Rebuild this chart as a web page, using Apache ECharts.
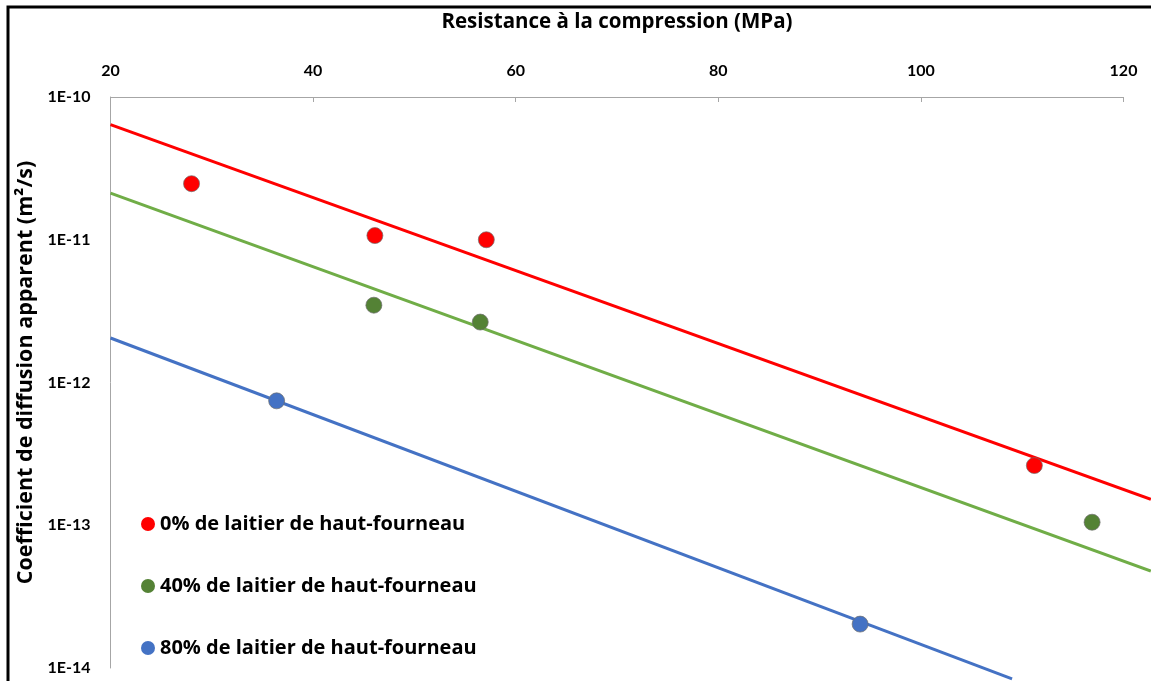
<!DOCTYPE html>
<html>
<head>
<meta charset="utf-8">
<script src="https://cdn.jsdelivr.net/npm/echarts@6/dist/echarts.min.js"></script>
<style>
  html, body { margin: 0; padding: 0; background: #fff; }
  #chart { width: 1151px; height: 681px; }
</style>
</head>
<body>
<div id="chart"></div>
<script>
// measured points (resistance MPa, diffusion coefficient m2/s)
var names = ['0% de laitier de haut-fourneau', '40% de laitier de haut-fourneau', '80% de laitier de haut-fourneau'];
var x0 = [28.0, 46.1, 57.1, 111.2];
var y0 = [2.47e-11, 1.07e-11, 1.0e-11, 2.62e-13];
var x40 = [46.0, 56.5, 116.9];
var y40 = [3.48e-12, 2.65e-12, 1.05e-13];
var x80 = [36.4, 94.0];
var y80 = [7.44e-13, 2.03e-14];

// trend lines, ends (they run past the axes, like in excel)
var trendX0 = [20, 122.7];
var trendY0 = [6.41e-11, 1.52e-13];
var trendX40 = [20, 122.7];
var trendY40 = [2.12e-11, 4.77e-14];
var trendX80 = [20, 109.0];
var trendY80 = [2.05e-12, 8.4e-15];

var xTicks = [20, 40, 60, 80, 100, 120];

var pointColors = ['#ff0000', '#548235', '#4472c4'];
var lineColors = ['#ff0000', '#70ad47', '#4472c4'];

var font = '"Open Sans", Lato, sans-serif';
var tickFont = 'Lato, "Open Sans", sans-serif';

function pairs(xs, ys) {
  return xs.map(function(x, i) { return [x, ys[i]]; });
}

var chart = echarts.init(document.getElementById('chart'));

var pts = [pairs(x0, y0), pairs(x40, y40), pairs(x80, y80)];
var trends = [pairs(trendX0, trendY0), pairs(trendX40, trendY40), pairs(trendX80, trendY80)];

// second (hidden) grid is wider so the trend lines can run on past the x axis end
var plotLeft = 110.5, plotTop = 97;
var plotW = 1013;
var plotH = 571;
var pxPerUnit = plotW / 100;
var wideW = 1151 - plotLeft;
var wideMax = 20 + wideW / pxPerUnit;

var series = [];
trends.forEach(function(d, i) {
  series.push({
    name: 'trend' + i,
    type: 'line',
    xAxisIndex: 1,
    yAxisIndex: 1,
    data: d,
    symbol: 'none',
    clip: false,
    silent: true,
    z: 2,
    lineStyle: { color: lineColors[i], width: 3 }
  });
});
pts.forEach(function(d, i) {
  series.push({
    name: names[i],
    type: 'scatter',
    data: d,
    symbol: 'circle',
    symbolSize: 16,
    z: 5,
    itemStyle: { color: pointColors[i], opacity: 1, borderColor: 'rgba(110,110,110,0.7)', borderWidth: 1 }
  });
});

var option = {
  animation: false,
  backgroundColor: '#fff',
  grid: [
    { left: plotLeft, top: plotTop, width: plotW, height: plotH },
    { left: plotLeft, top: plotTop, width: wideW, height: plotH }
  ],
  graphic: [{
    type: 'rect',
    shape: { x: 8, y: 7, width: 1300, height: 900 },
    style: { fill: null, stroke: '#000', lineWidth: 3 },
    silent: true
  }],
  legend: {
    orient: 'vertical',
    left: 136,
    top: 508,
    itemGap: 40,
    itemWidth: 14,
    itemHeight: 14,
    icon: 'circle',
    data: names.map(function(n, i) { return { name: n, itemStyle: { color: pointColors[i], borderWidth: 0 } }; }),
    textStyle: { fontFamily: font, fontWeight: 'bold', fontSize: 20, lineHeight: 22, color: '#000' }
  },
  xAxis: [{
    type: 'value',
    gridIndex: 0,
    position: 'top',
    min: 20,
    max: 120,
    interval: 20,
    name: 'Resistance à la compression (MPa)',
    nameLocation: 'middle',
    nameGap: 64,
    nameTextStyle: { fontFamily: font, fontWeight: 'bold', fontSize: 20.5, color: '#000' },
    axisLine: { show: true, lineStyle: { color: '#a6a6a6', width: 1 } },
    axisTick: { show: true, inside: true, length: 5, lineStyle: { color: '#a6a6a6' } },
    splitLine: { show: false },
    axisLabel: {
      margin: 18,
      fontFamily: tickFont, fontWeight: 'bold', fontSize: 16, color: '#000',
      formatter: function(v) { return xTicks.indexOf(v) >= 0 ? String(v) : ''; }
    }
  }, {
    type: 'value',
    gridIndex: 1,
    min: 20,
    max: wideMax,
    show: false
  }],
  yAxis: [{
    type: 'log',
    gridIndex: 0,
    logBase: 10,
    min: 1e-14,
    max: 1e-10,
    name: 'Coefficient de diffusion apparent (m²/s)',
    nameLocation: 'middle',
    nameGap: 72,
    nameTextStyle: { fontFamily: font, fontWeight: 'bold', fontSize: 21.5, color: '#000', padding: [0, 0, 0, 20] },
    axisLine: { show: true, lineStyle: { color: '#a6a6a6', width: 1 } },
    axisTick: { show: false },
    splitLine: { show: false },
    axisLabel: {
      margin: 20,
      fontFamily: tickFont, fontWeight: 'bold', fontSize: 16, color: '#000',
      formatter: function(v) { return '1E' + Math.round(Math.log10(v)); }
    }
  }, {
    type: 'log',
    gridIndex: 1,
    logBase: 10,
    min: 1e-14,
    max: 1e-10,
    show: false
  }],
  series: series
};

chart.setOption(option);
</script>
</body>
</html>
